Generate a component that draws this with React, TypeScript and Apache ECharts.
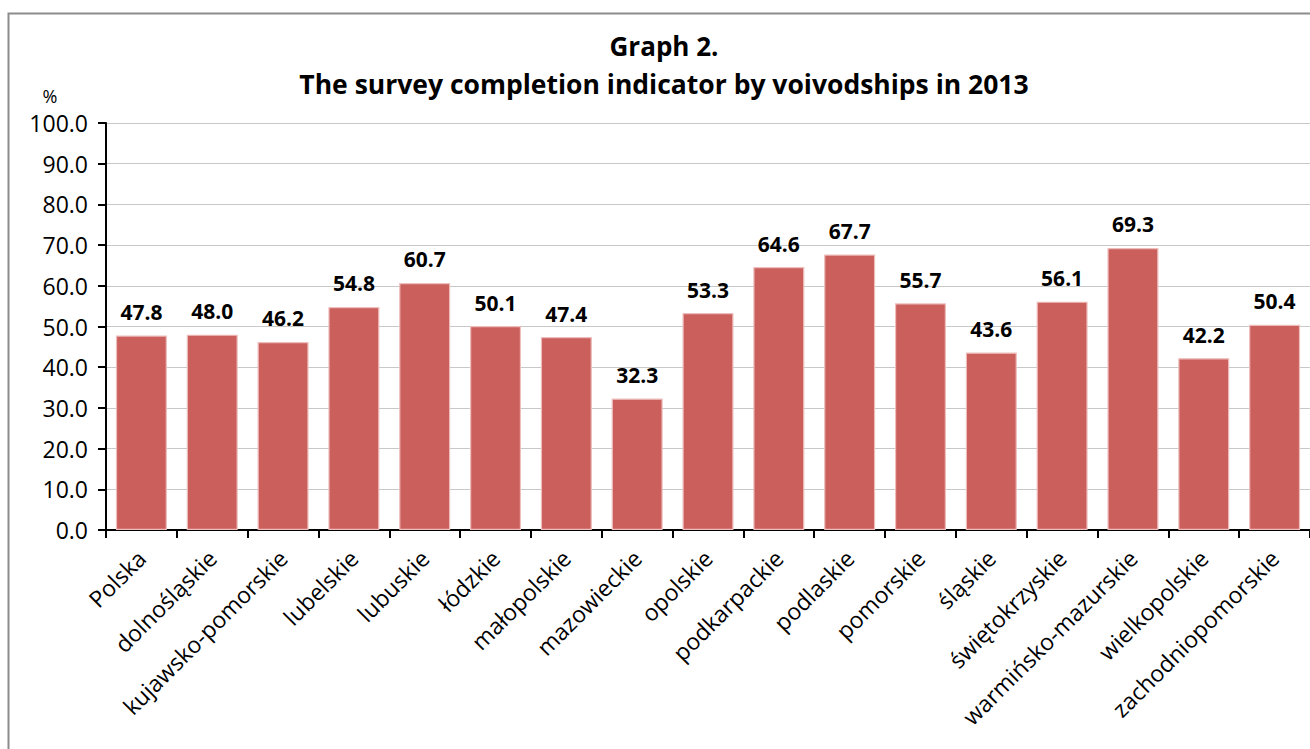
import React, { useEffect, useRef } from "react";
import * as echarts from "echarts";

const categories = [
  "Polska",
  "dolnośląskie",
  "kujawsko-pomorskie",
  "lubelskie",
  "lubuskie",
  "łódzkie",
  "małopolskie",
  "mazowieckie",
  "opolskie",
  "podkarpackie",
  "podlaskie",
  "pomorskie",
  "śląskie",
  "świętokrzyskie",
  "warmińsko-mazurskie",
  "wielkopolskie",
  "zachodniopomorskie",
];

const values = [47.8, 48.0, 46.2, 54.8, 60.7, 50.1, 47.4, 32.3, 53.3, 64.6, 67.7, 55.7, 43.6, 56.1, 69.3, 42.2, 50.4];

const titleLines = ["Graph 2.", "The survey completion indicator by voivodships in 2013"];
const yUnit = "%";

const FONT = "'Open Sans', sans-serif";

export default function App() {
  const ref = useRef<HTMLDivElement>(null);
  useEffect(() => {
    if (!ref.current) return;
    const chart = echarts.init(ref.current, undefined, { renderer: "svg" });
    chart.setOption({
      animation: false,
      backgroundColor: "#ffffff",
      textStyle: { fontFamily: FONT },
      graphic: [
        {
          type: "rect",
          shape: { x: 8.5, y: 13.5, width: 1320, height: 760 },
          style: { fill: "none", stroke: "#8c8c8c", lineWidth: 2 },
          silent: true,
        },
        {
          type: "text",
          x: 664,
          y: 46,
          style: {
            text: titleLines[0],
            fontSize: 26,
            fontWeight: "bold",
            fontFamily: FONT,
            fill: "#000",
            align: "center",
            verticalAlign: "middle",
          },
        },
        {
          type: "text",
          x: 664,
          y: 84,
          style: {
            text: titleLines[1],
            fontSize: 26.5,
            fontWeight: "bold",
            fontFamily: FONT,
            fill: "#000",
            align: "center",
            verticalAlign: "middle",
          },
        },
        {
          type: "text",
          x: 50,
          y: 96,
          style: {
            text: yUnit,
            fontSize: 18,
            fontFamily: FONT,
            fill: "#000",
            align: "center",
            verticalAlign: "middle",
          },
        },
      ],
      grid: { left: 106, top: 123, width: 1209, height: 407, containLabel: false },
      xAxis: {
        type: "category",
        data: categories,
        axisLine: { lineStyle: { color: "#000", width: 2 } },
        axisTick: { show: true, length: 8, lineStyle: { color: "#000", width: 2 } },
        axisLabel: {
          rotate: 45,
          interval: 0,
          margin: 24,
          fontSize: 23,
          fontFamily: FONT,
          color: "#000",
        },
      },
      yAxis: {
        type: "value",
        min: 0,
        max: 100,
        interval: 10,
        axisLine: { show: true, lineStyle: { color: "#000", width: 2 } },
        axisTick: { show: true, length: 8, lineStyle: { color: "#000", width: 2 } },
        axisLabel: {
          formatter: (v: number) => v.toFixed(1),
          fontSize: 23,
          fontFamily: FONT,
          color: "#000",
          margin: 18,
        },
        splitLine: { show: true, lineStyle: { color: "#c8c8c8", width: 1 } },
      },
      series: [
        {
          type: "bar",
          data: values,
          barCategoryGap: "28%",
          itemStyle: { color: "#CB5F5C", borderColor: "#EDBDBB", borderWidth: 1.2 },
          label: {
            show: true,
            position: "top",
            distance: 13,
            formatter: (p: any) => Number(p.value).toFixed(1),
            fontSize: 21,
            fontWeight: "bold",
            fontFamily: FONT,
            color: "#000",
          },
        },
      ],
    });
    return () => chart.dispose();
  }, []);
  return (
    <div
      ref={ref}
      style={{ position: "fixed", left: 0, top: 0, width: 1310, height: 749, background: "#fff" }}
    />
  );
}
